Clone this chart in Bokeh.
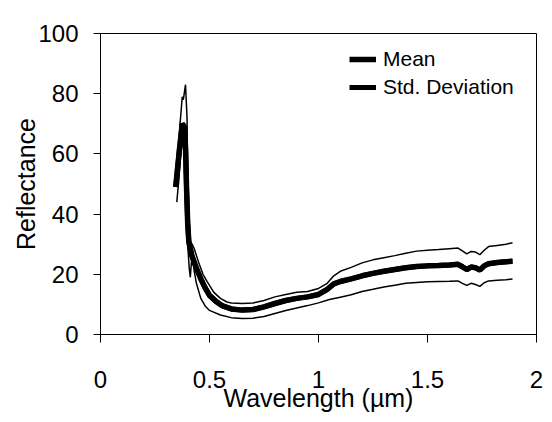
from bokeh.plotting import figure
from bokeh.models import Range1d, FixedTicker, Legend, LegendItem
from bokeh.embed import file_html
from bokeh.resources import INLINE

# ---- data ----
mean_wl = [0.345, 0.36, 0.375, 0.385, 0.39, 0.395, 0.40, 0.405, 0.41, 0.42, 0.44, 0.46, 0.48, 0.50,
           0.53, 0.56, 0.60, 0.65, 0.70, 0.75, 0.80, 0.85, 0.90, 0.95, 1.00, 1.04, 1.07, 1.10, 1.15,
           1.20, 1.25, 1.30, 1.35, 1.40, 1.45, 1.50, 1.55, 1.60, 1.64, 1.66, 1.68, 1.70, 1.72, 1.74,
           1.76, 1.78, 1.82, 1.86, 1.89]
mean_refl = [49, 60, 70, 69, 62, 48, 37, 31, 29, 26, 22, 18.5, 15.5, 13,
             11, 9.5, 8.5, 8.1, 8.3, 9.2, 10.3, 11.3, 12, 12.5, 13.3, 15, 16.8, 17.6, 18.5,
             19.5, 20.3, 21, 21.6, 22.2, 22.6, 22.8, 22.9, 23.1, 23.3, 22.5, 21.6, 22.4, 22.2, 21.4,
             22.8, 23.5, 23.9, 24.2, 24.3]

upper_wl = [0.355, 0.365, 0.375, 0.38, 0.39, 0.397, 0.40, 0.405, 0.41, 0.42, 0.43, 0.45, 0.47, 0.49,
            0.52, 0.55, 0.58, 0.60, 0.65, 0.70, 0.75, 0.80, 0.85, 0.90, 0.95, 1.00, 1.04, 1.07, 1.10,
            1.15, 1.20, 1.25, 1.30, 1.35, 1.40, 1.45, 1.50, 1.55, 1.60, 1.64, 1.66, 1.68, 1.70, 1.72,
            1.74, 1.76, 1.78, 1.82, 1.86, 1.89]
upper_refl = [58, 70, 79, 78, 83, 72, 50, 36, 31, 30, 28.5, 24, 20, 17.5,
              14, 12, 10.8, 10.5, 10.3, 10.5, 11.3, 12.5, 13.3, 14, 14.3, 15.3, 17, 19.5, 21,
              22.3, 23.8, 24.8, 25.5, 26.2, 27, 27.7, 28, 28.2, 28.5, 28.7, 27.8, 26.8, 27.6, 27.4,
              26.5, 28, 29.2, 29.6, 30, 30.5]

lower_wl = [0.35, 0.36, 0.37, 0.38, 0.39, 0.395, 0.40, 0.407, 0.412, 0.417, 0.422, 0.43, 0.44, 0.46,
            0.48, 0.50, 0.55, 0.60, 0.65, 0.70, 0.75, 0.80, 0.85, 0.90, 0.95, 1.00, 1.05, 1.10, 1.15,
            1.20, 1.25, 1.30, 1.35, 1.40, 1.45, 1.50, 1.55, 1.60, 1.64, 1.66, 1.68, 1.70, 1.72, 1.74,
            1.76, 1.78, 1.82, 1.86, 1.89]
lower_refl = [44, 52, 62, 64, 60, 45, 30, 22, 19, 24, 26, 21, 17, 12,
              9.5, 8, 6.5, 5.6, 5.3, 5.4, 6, 7, 8, 8.8, 9.6, 10.5, 11.6, 12.4, 13.2,
              14.3, 15, 15.8, 16.4, 17, 17.3, 17.5, 17.6, 17.7, 17.8, 17, 16.3, 17, 16.6, 16,
              17.2, 17.8, 18, 18.2, 18.4]

x_ticks = [0, 0.5, 1, 1.5, 2]
x_tick_labels = ["0", "0.5", "1", "1.5", "2"]
y_ticks = [0, 20, 40, 60, 80, 100]
y_tick_labels = ["0", "20", "40", "60", "80", "100"]
series_names = ["Mean", "Std. Deviation"]

FONT = "Liberation Sans"

p = figure(width=544, height=414, output_backend="svg", toolbar_location=None,
           x_range=Range1d(0, 2), y_range=Range1d(0, 100),
           min_border_left=100, min_border_right=8, min_border_top=33, min_border_bottom=77)

p.xgrid.visible = False
p.ygrid.visible = False
p.outline_line_color = "black"
p.outline_line_width = 1
p.outline_line_alpha = 1

r_upper = p.line(upper_wl, upper_refl, line_color="black", line_width=1.5)
r_lower = p.line(lower_wl, lower_refl, line_color="black", line_width=1.5)
# key line for the "Std. Deviation" legend entry (lies underneath the mean curve)
r_std_key = p.line(mean_wl, mean_refl, line_color="black", line_width=5)
r_mean = p.line(mean_wl, mean_refl, line_color="black", line_width=5.5)

legend = Legend(items=[LegendItem(label=series_names[0], renderers=[r_mean]),
                       LegendItem(label=series_names[1], renderers=[r_std_key])],
                location=(249, 233))
legend.label_text_font = FONT
legend.label_text_font_size = "21px"
legend.label_text_color = "black"
legend.glyph_width = 27
legend.glyph_height = 28
legend.label_height = 28
legend.label_standoff = 7
legend.spacing = 0
legend.padding = 0
legend.margin = 0
legend.border_line_alpha = 0
legend.background_fill_alpha = 0
p.add_layout(legend)

for ax in (p.xaxis[0], p.yaxis[0]):
    ax.axis_line_color = "black"
    ax.axis_line_width = 1
    ax.major_tick_line_color = "black"
    ax.major_tick_in = 0
    ax.minor_tick_line_color = None
    ax.major_label_text_font = FONT
    ax.major_label_text_font_size = "24px"
    ax.major_label_text_color = "black"
    ax.axis_label_text_font = FONT
    ax.axis_label_text_font_size = "25px"
    ax.axis_label_text_font_style = "normal"
    ax.axis_label_text_color = "black"

p.xaxis.ticker = FixedTicker(ticks=x_ticks)
p.xaxis.major_label_overrides = dict(zip(x_ticks, x_tick_labels))
p.xaxis.major_tick_out = 8
p.xaxis.major_label_standoff = 28
p.xaxis.axis_label = "Wavelength (µm)"
p.xaxis.axis_label_standoff = -7

p.yaxis.ticker = FixedTicker(ticks=y_ticks)
p.yaxis.major_label_overrides = dict(zip(y_ticks, y_tick_labels))
p.yaxis.major_tick_out = 7
p.yaxis.major_label_standoff = 15
p.yaxis.axis_label = "Reflectance"
p.yaxis.axis_label_standoff = -5

open("out.html", "w").write(file_html(p, INLINE))
